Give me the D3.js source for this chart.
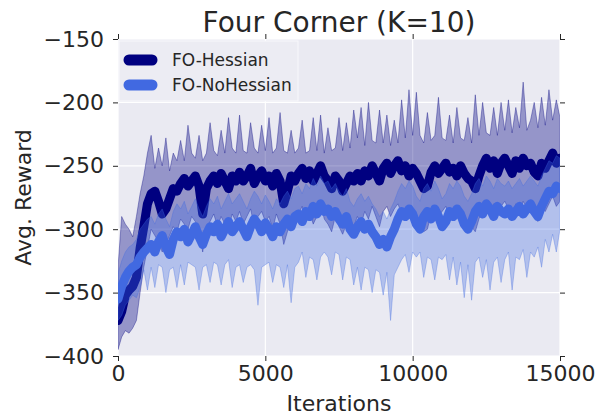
<!DOCTYPE html>
<html>
<head>
<meta charset="utf-8">
<script src="https://cdn.jsdelivr.net/npm/d3@7"></script>
<style>
  body { margin: 0; background: #fff; }
  text { font-family: "DejaVu Sans", sans-serif; fill: #262626; }
</style>
</head>
<body>
<div id="chart"></div>
<script>
// iterations are sampled every 125 steps, 0 .. 15000
const step = 125;
const xTicks = [0, 5000, 10000, 15000];
const yTicks = [-400, -350, -300, -250, -200, -150];
const seriesNames = ["FO-Hessian", "FO-NoHessian"];

// FO-Hessian: mean, upper and lower edge of the band
const hessMean = [
  -372, -365, -352, -348, -345, -338, -315, -298, -280,
  -272, -270, -278, -288, -284, -276, -268, -270,
  -264, -260, -266, -262, -258, -266, -288, -268,
  -262, -258, -264, -256, -262, -268, -258, -262,
  -255, -262, -258, -252, -264, -258, -254, -262,
  -258, -266, -256, -262, -280, -270, -258, -262,
  -256, -252, -260, -254, -262, -256, -250, -258,
  -262, -268, -258, -262, -270, -264, -258, -262,
  -256, -262, -254, -258, -250, -256, -262, -252,
  -248, -256, -250, -246, -254, -250, -258, -252,
  -256, -262, -268, -266, -255, -250, -256, -252,
  -248, -255, -252, -258, -250, -256, -260, -262,
  -268, -258, -250, -244, -252, -246, -256, -248,
  -244, -250, -256, -246, -252, -244, -250, -248,
  -255, -258, -248, -252, -246, -240, -248, -244
];
const hessUpper = [
  -330, -290, -296, -300, -306, -290, -272, -258, -240,
  -226, -252, -236, -250, -228, -254, -240, -246,
  -230, -246, -218, -240, -244, -226, -246, -240,
  -216, -238, -242, -222, -240, -212, -236, -240,
  -210, -238, -240, -216, -236, -240, -218, -238,
  -212, -240, -236, -208, -238, -240, -222, -240,
  -236, -214, -240, -238, -212, -238, -210, -240,
  -220, -238, -236, -212, -238, -216, -236, -206,
  -228, -204, -234, -200, -230, -232, -206, -232,
  -210, -234, -214, -232, -198, -228, -190, -226,
  -192, -226, -232, -208, -230, -226, -196, -228,
  -230, -210, -232, -204, -228, -230, -212, -232,
  -194, -226, -200, -224, -226, -204, -226, -200,
  -222, -198, -224, -204, -220, -184, -222, -214,
  -200, -220, -196, -218, -190, -214, -198, -212
];
const hessLower = [
  -395, -385, -380, -382, -378, -372, -350, -330, -315,
  -300, -305, -310, -318, -312, -305, -298, -302,
  -292, -296, -300, -290, -294, -302, -318, -300,
  -294, -288, -298, -290, -296, -300, -288, -294,
  -286, -296, -290, -284, -298, -290, -286, -294,
  -290, -300, -288, -296, -312, -302, -292, -296,
  -288, -282, -294, -286, -296, -290, -280, -292,
  -296, -302, -290, -298, -304, -296, -292, -298,
  -290, -296, -286, -292, -282, -290, -298, -286,
  -282, -290, -284, -280, -288, -284, -292, -286,
  -290, -296, -302, -300, -288, -284, -290, -286,
  -282, -290, -286, -292, -284, -290, -296, -298,
  -302, -292, -284, -278, -286, -280, -290, -282,
  -278, -284, -290, -280, -286, -278, -284, -282,
  -290, -294, -282, -286, -280, -274, -282, -278
];

// FO-NoHessian: mean, upper and lower edge of the band
const noHessMean = [
  -355, -345, -338, -333, -330, -328, -322, -318, -315,
  -312, -318, -310, -305, -314, -320, -308, -302,
  -306, -300, -310, -304, -298, -306, -312, -304,
  -298, -302, -296, -306, -300, -294, -302, -298,
  -294, -300, -306, -298, -292, -296, -302, -295,
  -300, -306, -298, -302, -296, -292, -298, -290,
  -288, -294, -286, -290, -282, -288, -280, -286,
  -284, -290, -286, -292, -296, -290, -300, -304,
  -298, -294, -300, -296, -302, -306, -312, -308,
  -314, -306, -300, -292, -286, -290, -284, -288,
  -296, -300, -290, -286, -292, -284, -290, -298,
  -294, -286, -290, -284, -288, -296, -300, -294,
  -286, -282, -288, -280, -284, -290, -282, -286,
  -288, -284, -290, -286, -282, -288, -284, -280,
  -286, -290, -282, -276, -270, -272, -266, -268
];
const noHessUpper = [
  -335, -325, -318, -314, -312, -308, -300, -296, -292,
  -290, -296, -288, -284, -292, -298, -286, -280,
  -284, -278, -288, -282, -276, -284, -290, -282,
  -276, -280, -274, -284, -278, -272, -280, -276,
  -272, -278, -284, -276, -270, -274, -280, -273,
  -278, -284, -276, -280, -274, -270, -276, -268,
  -266, -272, -264, -268, -260, -266, -258, -264,
  -262, -268, -264, -270, -274, -268, -278, -282,
  -276, -272, -278, -274, -280, -284, -290, -286,
  -292, -284, -278, -270, -264, -268, -262, -266,
  -274, -278, -268, -264, -270, -262, -268, -276,
  -272, -264, -268, -262, -266, -274, -278, -272,
  -264, -260, -266, -258, -262, -268, -260, -264,
  -266, -262, -268, -264, -260, -266, -262, -258,
  -262, -266, -258, -252, -246, -248, -242, -244
];
const noHessLower = [
  -372, -368, -360, -356, -352, -354, -346, -332, -348,
  -330, -346, -328, -330, -350, -332, -330, -346,
  -328, -344, -326, -328, -330, -348, -330, -328,
  -342, -326, -328, -344, -328, -324, -346, -330,
  -328, -342, -330, -328, -332, -360, -330, -328,
  -326, -342, -328, -330, -346, -328, -358, -330,
  -326, -318, -338, -322, -324, -340, -322, -318,
  -322, -336, -318, -320, -340, -322, -324, -344,
  -330, -348, -330, -332, -350, -332, -334, -352,
  -334, -372, -336, -330, -324, -320, -334, -318,
  -322, -318, -338, -322, -324, -340, -322, -324,
  -320, -340, -322, -344, -326, -354, -328, -356,
  -326, -322, -338, -324, -348, -326, -322, -342,
  -324, -318, -348, -322, -324, -316, -338, -318,
  -322, -314, -330, -308, -318, -304, -318, -300
];

const colors = ["#000080", "#4169e1"];

const W = 597, H = 415;
const margin = {top: 39, right: 37, bottom: 59, left: 118};
const width = W - margin.left - margin.right;
const height = H - margin.top - margin.bottom;

const svg = d3.select("#chart").append("svg")
    .attr("width", W)
    .attr("height", H);

const g = svg.append("g")
    .attr("transform", "translate(" + margin.left + "," + margin.top + ")");

const x = d3.scaleLinear().domain([0, 15000]).range([0, width]);
const y = d3.scaleLinear().domain([-400, -150]).range([height, 0]);

// plot background + grid
g.append("rect")
    .attr("width", width)
    .attr("height", height)
    .attr("fill", "#eaeaf2");

g.append("g")
    .selectAll("line")
    .data(xTicks)
    .join("line")
    .attr("x1", d => x(d)).attr("x2", d => x(d))
    .attr("y1", 0).attr("y2", height)
    .attr("stroke", "#fff").attr("stroke-width", 1.2);

g.append("g")
    .selectAll("line")
    .data(yTicks)
    .join("line")
    .attr("x1", 0).attr("x2", width)
    .attr("y1", d => y(d)).attr("y2", d => y(d))
    .attr("stroke", "#fff").attr("stroke-width", 1.2);

svg.append("clipPath").attr("id", "clip")
    .append("rect").attr("width", width).attr("height", height);

const plot = g.append("g").attr("clip-path", "url(#clip)");

const series = [
    {name: seriesNames[0], mean: hessMean, upper: hessUpper, lower: hessLower, color: colors[0], alpha: 0.36},
    {name: seriesNames[1], mean: noHessMean, upper: noHessUpper, lower: noHessLower, color: colors[1], alpha: 0.33}
];

const area = d3.area()
    .x((d, i) => x(i * step))
    .y0(d => y(d[0]))
    .y1(d => y(d[1]));

const line = d3.line()
    .x((d, i) => x(i * step))
    .y(d => y(d));

series.forEach(s => {
    const band = s.upper.map((u, i) => [s.lower[i], u]);
    plot.append("path")
        .datum(band)
        .attr("d", area)
        .attr("fill", s.color)
        .attr("fill-opacity", s.alpha)
        .attr("stroke", s.color)
        .attr("stroke-opacity", s.alpha)
        .attr("stroke-width", 1);

    plot.append("path")
        .datum(s.mean)
        .attr("d", line)
        .attr("fill", "none")
        .attr("stroke", s.color)
        .attr("stroke-width", 9)
        .attr("stroke-linejoin", "round")
        .attr("stroke-linecap", "round");
});

// axes with ticks on all four sides
const fmt = d3.format("d");
const axisStyle = sel => {
    sel.select(".domain").remove();
    sel.selectAll(".tick line").attr("stroke", "#262626").attr("stroke-width", 1);
    sel.selectAll(".tick text")
        .style("font-size", "22px")
        .style("font-family", "DejaVu Sans")
        .attr("fill", "#262626");
};

g.append("g")
    .attr("transform", "translate(0," + height + ")")
    .call(d3.axisBottom(x).tickValues(xTicks).tickFormat(fmt).tickSize(5).tickPadding(4))
    .call(axisStyle);

g.append("g")
    .call(d3.axisLeft(y).tickValues(yTicks).tickFormat(fmt).tickSize(5).tickPadding(9))
    .call(axisStyle);

g.append("g")
    .call(d3.axisTop(x).tickValues(xTicks).tickFormat("").tickSize(5))
    .call(axisStyle);

g.append("g")
    .attr("transform", "translate(" + width + ",0)")
    .call(d3.axisRight(y).tickValues(yTicks).tickFormat("").tickSize(5))
    .call(axisStyle);

// labels
svg.append("text")
    .attr("x", margin.left + width / 2)
    .attr("y", 32)
    .attr("text-anchor", "middle")
    .style("font-size", "28px")
    .text("Four Corner (K=10)");

svg.append("text")
    .attr("x", margin.left + width / 2)
    .attr("y", 411)
    .attr("text-anchor", "middle")
    .style("font-size", "22px")
    .text("Iterations");

svg.append("text")
    .attr("transform", "translate(31," + (margin.top + height / 2) + ") rotate(-90)")
    .attr("text-anchor", "middle")
    .style("font-size", "22px")
    .text("Avg. Reward");

// legend
const legend = g.append("g").attr("transform", "translate(1,2)");
legend.append("rect")
    .attr("width", 179)
    .attr("height", 60)
    .attr("fill", "#ececf3")
    .attr("stroke", "#f8f8fb")
    .attr("stroke-width", 1);

series.forEach((s, i) => {
    const row = legend.append("g").attr("transform", "translate(0," + (19 + i * 25) + ")");
    row.append("line")
        .attr("x1", 10).attr("x2", 33)
        .attr("stroke", s.color)
        .attr("stroke-width", 11)
        .attr("stroke-linecap", "round");
    row.append("text")
        .attr("x", 53)
        .attr("y", 6)
        .style("font-size", "17px")
        .text(s.name);
});
</script>
</body>
</html>
